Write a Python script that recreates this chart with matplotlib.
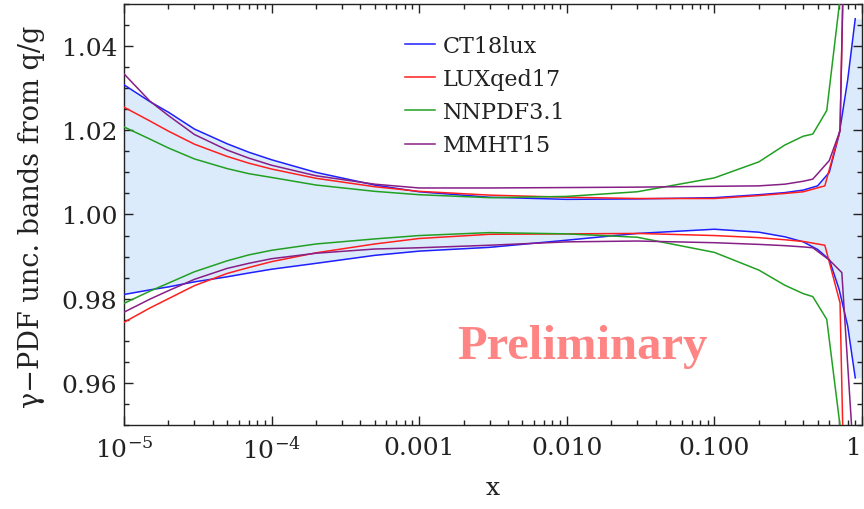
import matplotlib
matplotlib.use('Agg')
import matplotlib.pyplot as plt
import numpy as np
from matplotlib.ticker import LogLocator, MultipleLocator, NullFormatter

plt.rcParams['font.family'] = ['DejaVu Serif', 'Liberation Serif']
plt.rcParams['mathtext.fontset'] = 'dejavuserif'

# ---------------- data ----------------
x_ct = [1e-5, 1.5e-5, 2e-5, 3e-5, 5e-5, 7e-5, 1e-4, 2e-4, 5e-4, 1e-3, 3e-3, 1e-2, 3e-2,
        0.1, 0.2, 0.3, 0.4, 0.5, 0.6, 0.7, 0.8, 0.9]
ct_up = [1.0308, 1.0268, 1.0243, 1.0203, 1.0168, 1.0148, 1.0130, 1.0100, 1.0070, 1.0054, 1.0041,
         1.0036, 1.0037, 1.0040, 1.0047, 1.0052, 1.0058, 1.0068, 1.0100, 1.0190, 1.0320, 1.0465]
ct_lo = [0.9810, 0.9821, 0.9828, 0.9840, 0.9852, 0.9861, 0.9870, 0.9884, 0.9903, 0.9913, 0.9922,
         0.9939, 0.9955, 0.9965, 0.9958, 0.9947, 0.9935, 0.9917, 0.9893, 0.9822, 0.9735, 0.9612]

x_lux = [1e-5, 1.5e-5, 2e-5, 3e-5, 5e-5, 7e-5, 1e-4, 2e-4, 5e-4, 1e-3, 3e-3, 1e-2, 3e-2,
         0.1, 0.2, 0.3, 0.4, 0.56, 0.71, 0.74, 0.78]
lux_up = [1.0255, 1.0222, 1.0198, 1.0167, 1.0138, 1.0122, 1.0108, 1.0086, 1.0066, 1.0055, 1.0046,
          1.0041, 1.0038, 1.0038, 1.0045, 1.0050, 1.0054, 1.0068, 1.0200, 1.0500, 1.0800]
lux_lo = [0.9744, 0.9778, 0.9800, 0.9831, 0.9860, 0.9874, 0.9888, 0.9909, 0.9930, 0.9943, 0.9953,
          0.9954, 0.9955, 0.9950, 0.9945, 0.9940, 0.9936, 0.9927, 0.9790, 0.9498, 0.9300]

x_nn = [1e-5, 1.5e-5, 2e-5, 3e-5, 5e-5, 7e-5, 1e-4, 2e-4, 5e-4, 1e-3, 3e-3, 1e-2, 3e-2,
        0.1, 0.2, 0.3, 0.4, 0.464, 0.577, 0.71, 0.76]
nn_up = [1.0208, 1.0179, 1.0158, 1.0132, 1.0109, 1.0097, 1.0088, 1.0070, 1.0055, 1.0047, 1.0040,
         1.0043, 1.0054, 1.0087, 1.0125, 1.0165, 1.0186, 1.0191, 1.0247, 1.0513, 1.0700]
nn_lo = [0.9789, 0.9818, 0.9837, 0.9864, 0.9890, 0.9904, 0.9915, 0.9930, 0.9942, 0.9950, 0.9957,
         0.9954, 0.9946, 0.9910, 0.9868, 0.9832, 0.9812, 0.9805, 0.9751, 0.9498, 0.9300]

x_mm_up = [1e-5, 1.5e-5, 2e-5, 3e-5, 5e-5, 7e-5, 1e-4, 2e-4, 5e-4, 1e-3, 3e-3, 1e-2, 3e-2,
           0.1, 0.2, 0.3, 0.4, 0.464, 0.6, 0.71, 0.74, 0.77]
mm_up = [1.0334, 1.0269, 1.0235, 1.0190, 1.0153, 1.0134, 1.0117, 1.0092, 1.0072, 1.0063, 1.0063,
         1.0064, 1.0065, 1.0067, 1.0068, 1.0072, 1.0079, 1.0084, 1.0128, 1.0199, 1.0500, 1.0800]
x_mm_lo = [1e-5, 1.5e-5, 2e-5, 3e-5, 5e-5, 7e-5, 1e-4, 2e-4, 5e-4, 1e-3, 3e-3, 1e-2, 3e-2,
           0.1, 0.2, 0.3, 0.4, 0.464, 0.6, 0.73, 0.85, 0.9]
mm_lo = [0.9768, 0.9799, 0.9819, 0.9846, 0.9872, 0.9884, 0.9895, 0.9908, 0.9918, 0.9921, 0.9927,
         0.9935, 0.9937, 0.9933, 0.9929, 0.9926, 0.9923, 0.9921, 0.9892, 0.9862, 0.9498, 0.9350]

series_names = ['CT18lux', 'LUXqed17', 'NNPDF3.1', 'MMHT15']
series_colors = ['#1f1fff', '#ff1f1f', '#22a022', '#861f86']

xtick_vals = [1e-5, 1e-4, 1e-3, 1e-2, 1e-1, 1.0]
xtick_labels = [r'$10^{-5}$', r'$10^{-4}$', '0.001', '0.010', '0.100', '1']
ytick_vals = [0.96, 0.98, 1.00, 1.02, 1.04]
ytick_labels = ['0.96', '0.98', '1.00', '1.02', '1.04']

# ---------------- figure ----------------
W, H = 864, 510
fig = plt.figure(figsize=(W / 100, H / 100), dpi=100)
L, R, T, B = 124, 862, 5, 426
ax = fig.add_axes([L / W, 1 - B / H, (R - L) / W, (B - T) / H])

xmax = 1.0
x_fill = x_ct + [xmax]
ax.fill_between(x_fill, ct_up + [ct_up[-1]], ct_lo + [ct_lo[-1]],
                color='#dcebfb', lw=0, zorder=1)

lw = 1.1
curves = [
    (x_ct, ct_up, x_ct, ct_lo),
    (x_lux, lux_up, x_lux, lux_lo),
    (x_nn, nn_up, x_nn, nn_lo),
    (x_mm_up, mm_up, x_mm_lo, mm_lo),
]
handles = []
for (xu, yu, xl, yl), name, c in zip(curves, series_names, series_colors):
    h, = ax.plot(xu, yu, color=c, lw=lw, label=name, zorder=3)
    ax.plot(xl, yl, color=c, lw=lw, zorder=3)
    handles.append(h)

ax.set_xscale('log')
ax.set_xlim(1e-5, xmax)
ax.set_ylim(0.95, 1.05)

ax.set_xticks(xtick_vals, xtick_labels)
ax.xaxis.set_minor_locator(LogLocator(base=10, subs=np.arange(2, 10)))
ax.xaxis.set_minor_formatter(NullFormatter())
ax.set_yticks(ytick_vals, ytick_labels)
ax.yaxis.set_minor_locator(MultipleLocator(0.005))

tick_col = '#222222'
ax.tick_params(which='both', direction='in', top=True, right=True,
               colors=tick_col, width=1.0)
ax.tick_params(which='major', length=6.5, labelsize=18, pad=5)
ax.tick_params(which='minor', length=3.5)
ax.tick_params(axis='x', which='major', pad=8)
ax.get_xticklabels()[-1].set_horizontalalignment('right')
for s in ax.spines.values():
    s.set_color(tick_col)
    s.set_linewidth(1.0)

fig.text(32 / W, 1 - 217 / H, 'γ−PDF unc. bands from q/g', rotation=90,
         ha='center', va='center', fontsize=19.5, color=tick_col)
fig.text(493 / W, 1 - 489 / H, 'x', ha='center', va='center',
         fontsize=18, color=tick_col)

leg = ax.legend(handles=handles, loc='upper left',
                bbox_to_anchor=((405 - L) / (R - L), (B - 36) / (B - T)),
                frameon=False, borderpad=0, borderaxespad=0,
                prop={'family': 'DejaVu Serif', 'size': 16},
                handlelength=1.35, handletextpad=0.36, labelspacing=0.5)
for t in leg.get_texts():
    t.set_color(tick_col)

ax.text((582 - L) / (R - L), (B - 347) / (B - T), 'Preliminary',
        transform=ax.transAxes, ha='center', va='center',
        fontsize=35, fontweight='bold', color='#ff8484', zorder=4,
        family='Liberation Serif')

fig.savefig('out.png', dpi=100)
